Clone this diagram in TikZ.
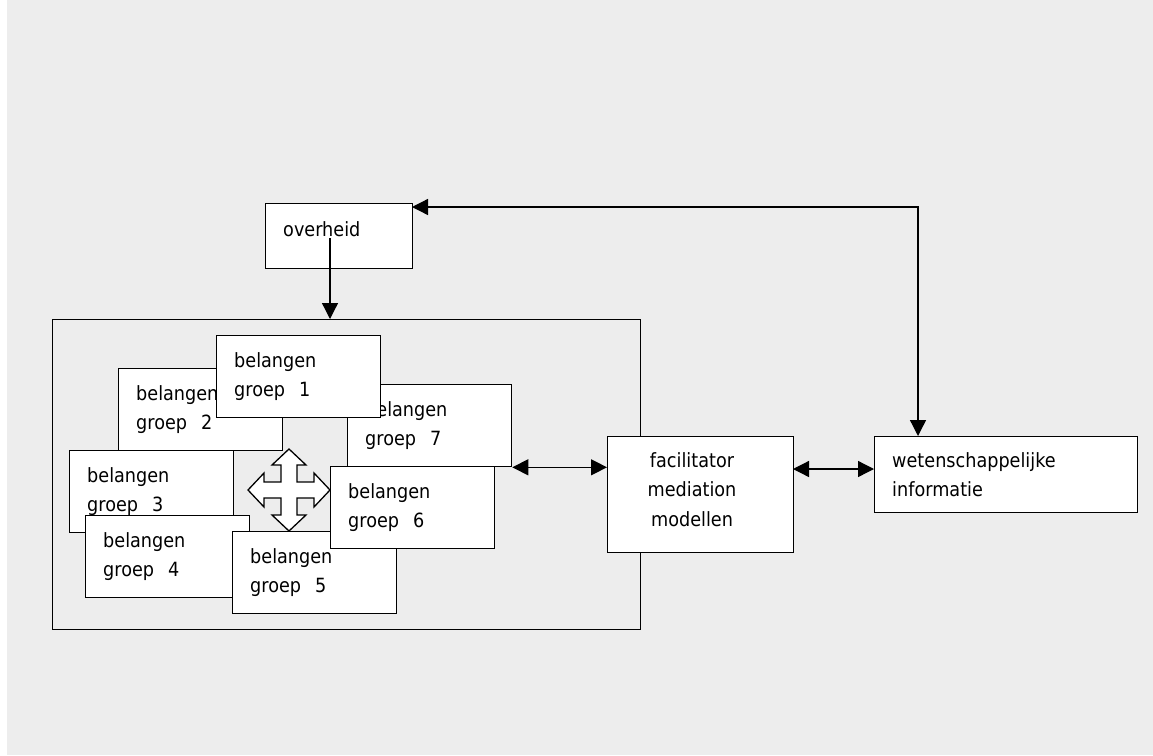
\documentclass[tikz,border=0pt]{standalone}
\usepackage{fontspec}
\setmainfont[FakeStretch=0.9]{DejaVu Sans}
\usetikzlibrary{arrows.meta}
\definecolor{bg}{HTML}{EDEDED}
\begin{document}
\begin{tikzpicture}[x=1pt,y=-1pt,
  box/.style={draw=black, line width=1.3pt, fill=white, rectangle, inner sep=0pt, anchor=north west},
  gbox/.style={box, minimum width=164pt, minimum height=82pt},
  txt/.style={inner sep=0pt, anchor=base west, font=\fontsize{19.6}{29.5}\selectfont},
  link/.style={line width=1.3pt, draw=black},
  >={Triangle[length=16pt,width=16pt]}
]
\useasboundingbox (0,0) rectangle (1153,755);
\fill[white] (0,0) rectangle (1153,755);
\fill[bg] (7,0) rectangle (1153,755);

\newcommand\mygrp[4]{%
  \node[gbox] (#1) at (#2,#3) {};
  \node[txt] (#1t) at ([xshift=18pt,yshift=-32pt]#1.north west)
    {\parbox[t]{140pt}{belangen\\groep\hspace{14pt}#4}};
}

% overheid
\node[box, minimum width=147pt, minimum height=65pt] (ov) at (265,203) {};
\node[txt] (ovt) at (283,236) {overheid};

% container (not filled)
\node[box, fill=none, minimum width=588pt, minimum height=310pt] (cont) at (52,319) {};

% groups (order gives overlaps)
\mygrp{g2}{118}{368}{2}
\mygrp{g3}{69}{450}{3}
\mygrp{g4}{85}{515}{4}
\mygrp{g5}{232}{531}{5}
\mygrp{g7}{347}{384}{7}
\mygrp{g6}{330}{466}{6}
\mygrp{g1}{216}{335}{1}

% four-way arrow
\filldraw[fill=white, draw=black, line width=1.3pt, line join=miter] (289,490)
  ++(0,-41) -- ++(17,16) -- ++(-9,0) -- ++(0,17) -- ++(17,0) -- ++(0,-9)
  -- ++(16,17) -- ++(-16,17) -- ++(0,-9) -- ++(-17,0) -- ++(0,17) -- ++(9,0)
  -- ++(-17,16) -- ++(-17,-16) -- ++(9,0) -- ++(0,-17) -- ++(-17,0) -- ++(0,9)
  -- ++(-16,-17) -- ++(16,-17) -- ++(0,9) -- ++(17,0) -- ++(0,-17) -- ++(-9,0) -- cycle;

% facilitator
\node[box, minimum width=186pt, minimum height=116pt] (fac) at (607,436) {};
\node[txt, anchor=base] (fact) at (692,467)
  {\parbox[t]{150pt}{\centering facilitator\\mediation\\modellen}};

% wetenschappelijke informatie
\node[box, minimum width=263pt, minimum height=76pt] (wet) at (874,436) {};
\node[txt] (wett) at (892,467)
  {\parbox[t]{230pt}{wetenschappelijke\\informatie}};

% connectors
\coordinate (ovd) at (330,238);
\draw[link,->] (ovd) -- (ovd |- cont.north);
\draw[link,<->] (g7.south east) -- (g7.south east -| fac.west);
\coordinate (m2) at (793,469);
\draw[link,<->] (m2) -- (m2 -| wet.west);
\coordinate (t1) at (412,207);
\coordinate (t2) at (918,207);
\draw[link,<->] (t1) -- (t2) -- (t2 |- wet.north);
\end{tikzpicture}
\end{document}
